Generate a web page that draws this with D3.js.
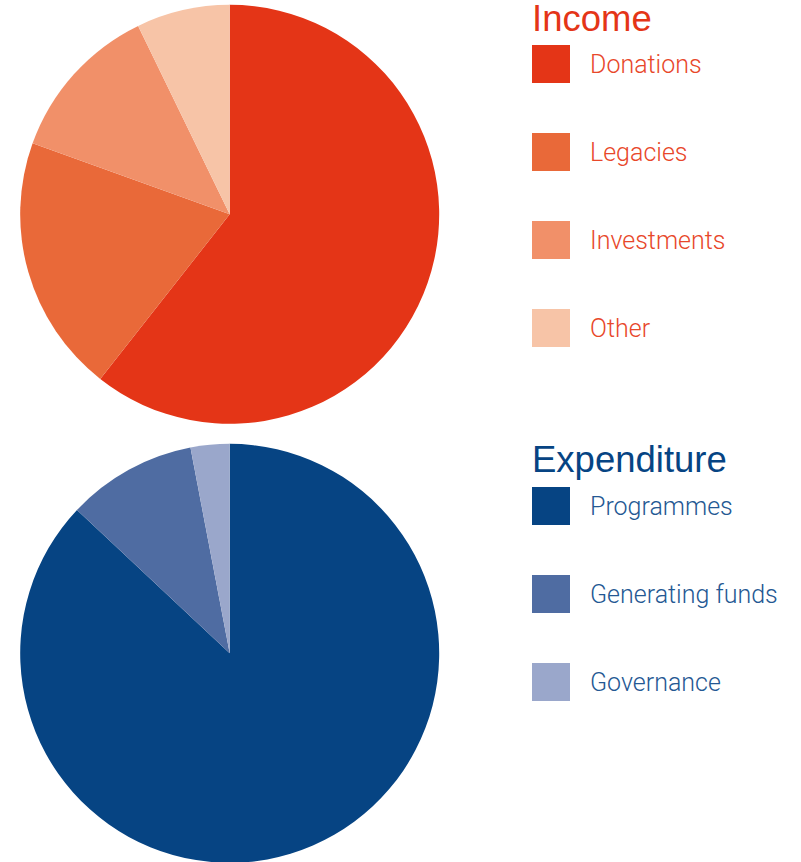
<!DOCTYPE html>
<html>
<head>
<meta charset="utf-8">
<script src="https://cdn.jsdelivr.net/npm/d3@7"></script>
<style>
  html, body { margin: 0; padding: 0; background: #ffffff; }
  svg { display: block; }
</style>
</head>
<body>
<svg id="chart" width="801" height="862"></svg>
<script>
// ---- Data ----
const incomeTitle = "Income";
const incomeCategories = ["Donations", "Legacies", "Investments", "Other"];
const incomeValues = [60.6, 19.9, 12.3, 7.2];
const incomeColors = ["#E43517", "#E96939", "#F19069", "#F7C4A7"];

const expenditureTitle = "Expenditure";
const expenditureCategories = ["Programmes", "Generating funds", "Governance"];
const expenditureValues = [87.0, 10.0, 3.0];
const expenditureColors = ["#064483", "#4F6CA2", "#9AA7CB"];

// ---- Layout ----
const svg = d3.select("#chart");
const radius = 209.5;
const pieCx = 229.7;
const panels = [
  { title: incomeTitle, cats: incomeCategories, vals: incomeValues, colors: incomeColors,
    titleColor: "#E43517", labelColor: "#E8472A", cy: 214.3, titleY: 31, firstSwatchY: 45 },
  { title: expenditureTitle, cats: expenditureCategories, vals: expenditureValues, colors: expenditureColors,
    titleColor: "#064483", labelColor: "#245893", cy: 653.3, titleY: 472, firstSwatchY: 487 }
];

const pie = d3.pie().sort(null).value(d => d);
const arc = d3.arc().innerRadius(0).outerRadius(radius);

const legendX = 532;
const swatch = 38;
const step = 88;

panels.forEach(p => {
  const color = d3.scaleOrdinal().domain(p.cats).range(p.colors);
  const g = svg.append("g").attr("transform", `translate(${pieCx},${p.cy})`);
  g.selectAll("path")
    .data(pie(p.vals))
    .join("path")
    .attr("d", arc)
    .attr("fill", (d, i) => color(p.cats[i]));

  svg.append("text")
    .attr("x", legendX)
    .attr("y", p.titleY)
    .attr("font-family", "'Liberation Sans', Arial, sans-serif")
    .attr("font-size", 36.5)
    .attr("fill", p.titleColor)
    .text(p.title);

  const yScale = d3.scaleBand().domain(p.cats)
    .range([p.firstSwatchY, p.firstSwatchY + step * p.cats.length]).paddingInner(0);

  const items = svg.selectAll(null).data(p.cats).join("g")
    .attr("transform", d => `translate(${legendX},${yScale(d)})`);
  items.append("rect")
    .attr("width", swatch).attr("height", swatch)
    .attr("fill", d => color(d));
  items.append("text")
    .attr("x", 58)
    .attr("y", swatch / 2 + 9)
    .attr("font-family", "Roboto, 'Liberation Sans', sans-serif")
    .attr("font-weight", 300)
    .attr("font-size", 25)
    .attr("fill", p.labelColor)
    .text(d => d);
});
</script>
</body>
</html>
